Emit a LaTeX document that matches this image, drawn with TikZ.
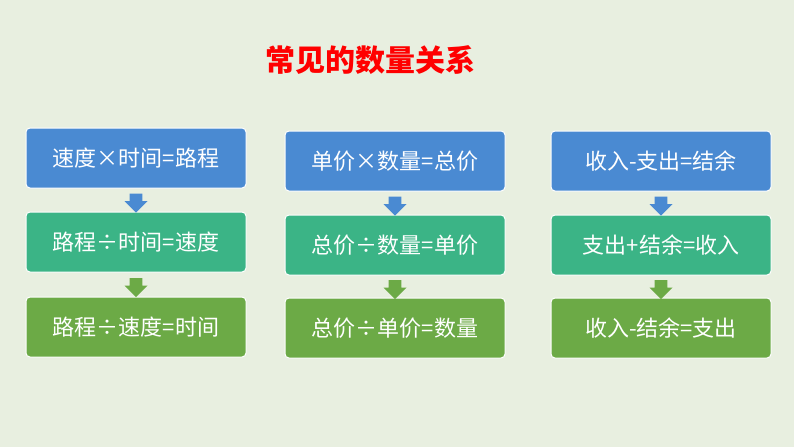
\documentclass[tikz,border=0pt]{standalone}
\usepackage{fontspec}
\newfontfamily\cjk{Noto Sans CJK SC}
\usetikzlibrary{shapes.arrows,calc}
\definecolor{bg}{HTML}{E8EFE0}
\definecolor{cblue}{HTML}{4A8AD2}
\definecolor{cteal}{HTML}{3BB486}
\definecolor{cgreen}{HTML}{6CAA46}
\tikzset{
 x=1pt,y=-1pt,
 box/.style={draw=white,line width=1pt,rounded corners=4pt,minimum width=220pt,minimum height=60pt,text=white,font=\cjk\fontsize{22}{24}\selectfont},
 arr/.style={single arrow,draw=none,rotate=-90,minimum height=19pt,minimum width=23pt,single arrow head extend=5pt,single arrow head indent=0pt,inner sep=6pt,font=\fontsize{1}{1}\selectfont}
}
\begin{document}
\begin{tikzpicture}
\fill[bg] (0,0) rectangle (794,447);
\useasboundingbox (0,0) rectangle (794,447);
\node[text=red,font=\cjk\bfseries\fontsize{30}{33}\selectfont] (title) at (370,60) {常见的数量关系};
\node[box,fill=cblue] (a1) at (136,158) {速度×时间=路程};
\node[box,fill=cteal] (a2) at (136,242) {路程÷时间=速度};
\node[box,fill=cgreen] (a3) at (136,327) {路程÷速度=时间};
\node[box,fill=cblue] (b1) at (395,161) {单价×数量=总价};
\node[box,fill=cteal] (b2) at (395,245) {总价÷数量=单价};
\node[box,fill=cgreen] (b3) at (395,328) {总价÷单价=数量};
\node[box,fill=cblue] (c1) at (661,161) {收入-支出=结余};
\node[box,fill=cteal] (c2) at (661,245) {支出+结余=收入};
\node[box,fill=cgreen] (c3) at (661,328) {收入-结余=支出};
\foreach \u/\v/\c in {a1/a2/cblue,a2/a3/cgreen,b1/b2/cblue,b2/b3/cgreen,c1/c2/cblue,c2/c3/cgreen}
  \node[arr,fill=\c] (arr-\u) at ($(\u.south)!0.5!(\v.north)$) {};
\end{tikzpicture}
\end{document}
